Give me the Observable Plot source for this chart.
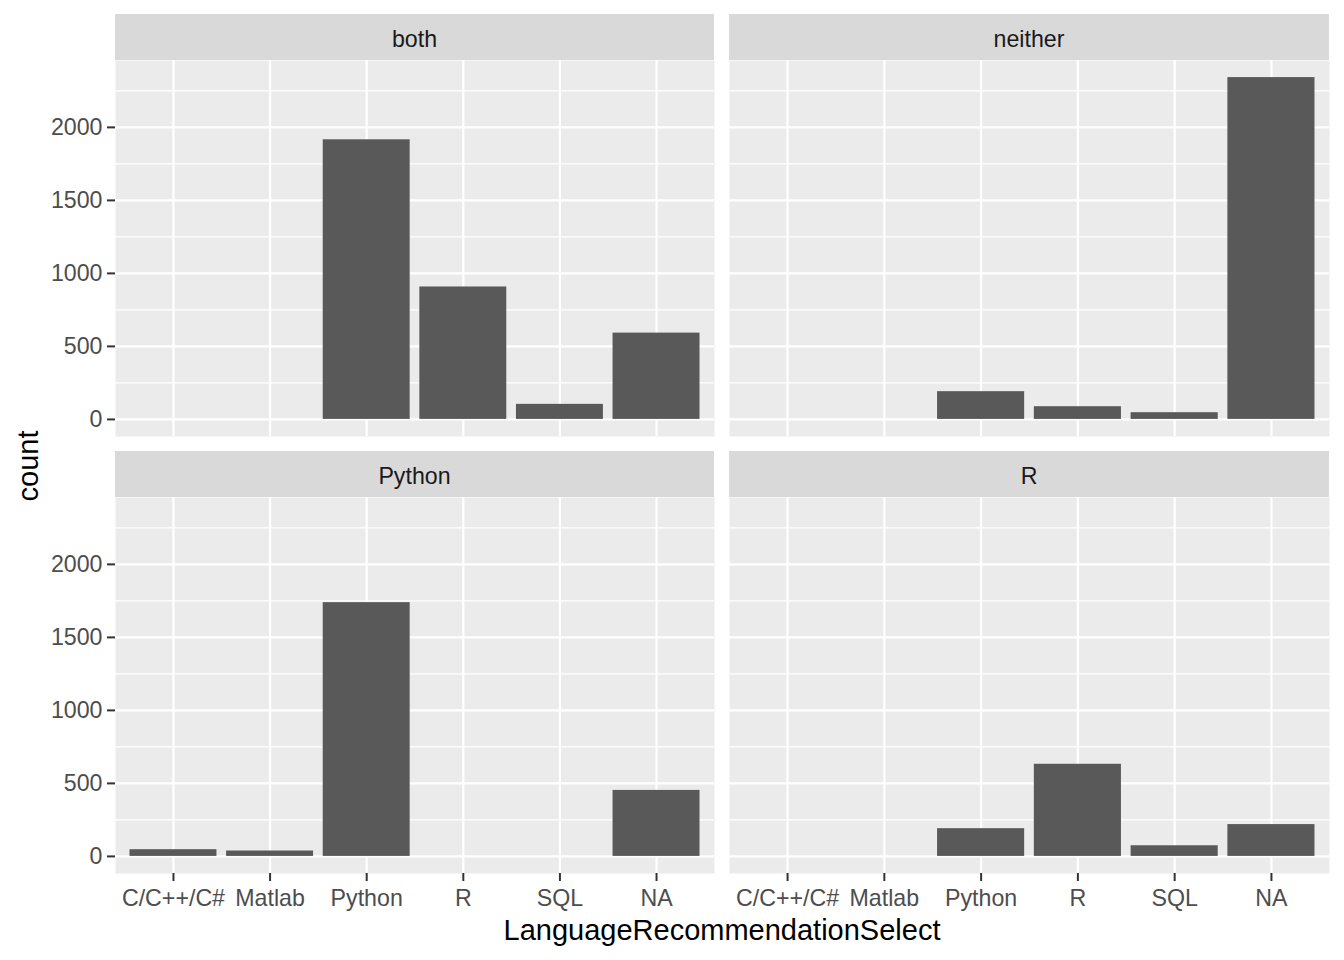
<!DOCTYPE html>
<html>
<head>
<meta charset="utf-8">
<script src="https://cdn.jsdelivr.net/npm/d3@7"></script>
<script src="https://cdn.jsdelivr.net/npm/@observablehq/plot@0.6"></script>
<style>
  html, body { margin: 0; padding: 0; background: #ffffff; }
  body { width: 1344px; height: 960px; position: relative; overflow: hidden;
         font-family: "Liberation Sans", Arial, sans-serif; }
  .abs { position: absolute; }
  .strip { position: absolute; background: #D9D9D9; color: #1A1A1A; font-size: 23.2px;
           display: flex; align-items: center; justify-content: center; box-sizing: border-box; padding-top: 4px; }
  .title { position: absolute; color: #000000; font-size: 29px; white-space: nowrap; }
</style>
</head>
<body>
<div id="root"></div>
<script>
// ---- data ----
const categories = ["C/C++/C#", "Matlab", "Python", "R", "SQL", "NA"];
const panelNames = ["both", "neither", "Python", "R"];
const countsBoth    = [null, null, 1915, 907, 103, 591];
const countsNeither = [null, null, 190, 87, 46, 2341];
const countsPython  = [46, 37, 1738, null, null, 452];
const countsR       = [null, null, 190, 631, 73, 218];
const majorTicks = [0, 500, 1000, 1500, 2000];
const minorTicks = [250, 750, 1250, 1750, 2250];
const xTitle = "LanguageRecommendationSelect";
const yTitle = "count";

const seriesList = [countsBoth, countsNeither, countsPython, countsR];
const allMax = d3.max(seriesList.flat().filter(v => v != null));
const yDomain = [-0.05 * allMax, 1.05 * allMax];

// layout (panel boxes in page pixels)
const layout = [
  {left: 115, top: 60, width: 599, height: 376, yAxis: true, xAxis: false},
  {left: 729, top: 60, width: 600, height: 376, yAxis: false, xAxis: false},
  {left: 115, top: 497, width: 599, height: 376, yAxis: true, xAxis: true},
  {left: 729, top: 497, width: 600, height: 376, yAxis: false, xAxis: true}
];
const stripH = 46;
const FONT = "Liberation Sans, Arial, sans-serif";
const root = document.getElementById("root");

panelNames.forEach((name, i) => {
  const L = layout[i];
  const data = categories.map((c, j) => ({cat: c, count: seriesList[i][j]})).filter(d => d.count != null);
  const mL = L.yAxis ? L.left : 0;
  const mB = L.xAxis ? 50 : 0;
  const marks = [
    Plot.frame({fill: "#EBEBEB", stroke: "none"}),
    Plot.gridY(minorTicks, {stroke: "#FFFFFF", strokeOpacity: 1, strokeWidth: 1.1}),
    Plot.gridY(majorTicks, {stroke: "#FFFFFF", strokeOpacity: 1, strokeWidth: 2.2}),
    Plot.gridX(categories, {stroke: "#FFFFFF", strokeOpacity: 1, strokeWidth: 2.2}),
    Plot.barY(data, {x: "cat", y: "count", fill: "#595959"})
  ];
  if (L.yAxis) marks.push(Plot.axisY(majorTicks, {anchor: "left", label: null, tickSize: 8, tickPadding: 5,
      tickFormat: d => String(d), fontSize: 23.2, fill: "#4D4D4D", stroke: "#333333", strokeWidth: 2}));
  if (L.xAxis) marks.push(Plot.axisX(categories, {anchor: "bottom", label: null, tickSize: 8, tickPadding: 8,
      fontSize: 23.2, fill: "#4D4D4D", stroke: "#333333", strokeWidth: 2}));
  const chart = Plot.plot({
    width: mL + L.width,
    height: L.height + mB,
    marginLeft: mL, marginRight: 0, marginTop: 0, marginBottom: mB,
    style: {fontFamily: FONT, fontSize: "23.2px", background: "transparent", overflow: "visible"},
    x: {type: "band", domain: categories, paddingInner: 0.1, paddingOuter: 0.15, round: false, axis: null},
    y: {domain: yDomain, axis: null},
    marks
  });
  chart.classList.add("abs");
  chart.style.left = (L.left - mL) + "px";
  chart.style.top = L.top + "px";
  root.appendChild(chart);

  const strip = document.createElement("div");
  strip.className = "strip";
  strip.style.left = L.left + "px";
  strip.style.top = (L.top - stripH) + "px";
  strip.style.width = L.width + "px";
  strip.style.height = stripH + "px";
  strip.textContent = name;
  root.appendChild(strip);
});

// axis titles
const xt = document.createElement("div");
xt.className = "title";
xt.textContent = xTitle;
xt.style.left = "722px";
xt.style.top = "914px";
xt.style.transform = "translateX(-50%)";
root.appendChild(xt);

const yt = document.createElement("div");
yt.className = "title";
yt.textContent = yTitle;
yt.style.left = "28px";
yt.style.top = "466px";
yt.style.transform = "translate(-50%, -50%) rotate(-90deg)";
root.appendChild(yt);
</script>
</body>
</html>
